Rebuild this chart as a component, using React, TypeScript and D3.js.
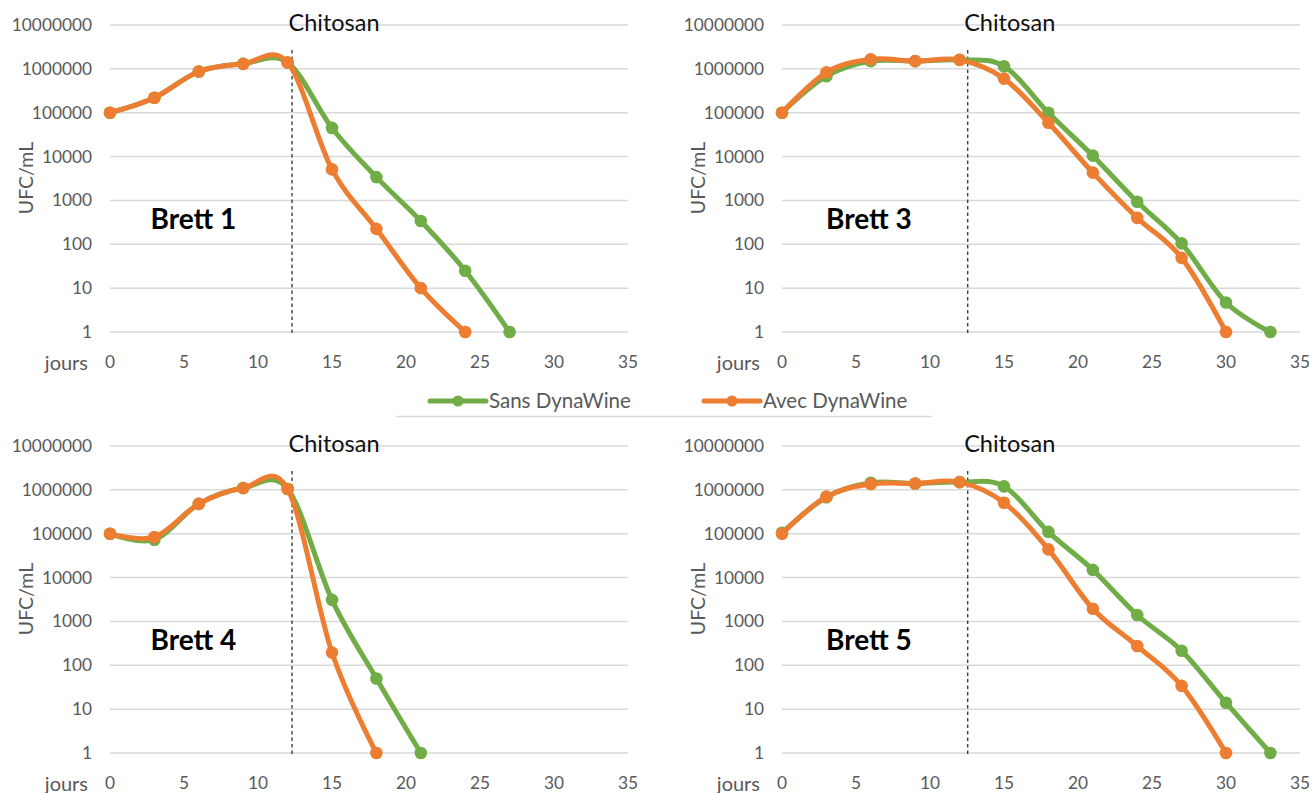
import React from "react";
import * as d3 from "d3";

const DAYS = [0, 3, 6, 9, 12, 15, 18, 21, 24, 27, 30, 33];
const X_TICKS = [0, 5, 10, 15, 20, 25, 30, 35];
const Y_TICKS = [1, 10, 100, 1000, 10000, 100000, 1000000, 10000000];

const brett1Sans = [1e5, 2.2e5, 8.7e5, 1.3e6, 1.4e6, 4.5e4, 3.4e3, 340, 25, 1];
const brett1Avec = [1e5, 2.2e5, 8.7e5, 1.3e6, 1.4e6, 5.1e3, 225, 10, 1];
const brett3Sans = [1e5, 6.8e5, 1.5e6, 1.5e6, 1.6e6, 1.15e6, 1e5, 1.05e4, 930, 105, 4.7, 1];
const brett3Avec = [1e5, 8.3e5, 1.65e6, 1.5e6, 1.6e6, 6e5, 5.9e4, 4.3e3, 400, 49, 1];
const brett4Sans = [1e5, 7.3e4, 4.8e5, 1.1e6, 1.05e6, 3.1e3, 50, 1];
const brett4Avec = [1e5, 8.4e4, 4.8e5, 1.1e6, 1.05e6, 195, 1];
const brett5Sans = [1.05e5, 6.8e5, 1.45e6, 1.4e6, 1.5e6, 1.2e6, 1.1e5, 1.5e4, 1.4e3, 215, 14, 1];
const brett5Avec = [1e5, 7e5, 1.35e6, 1.4e6, 1.5e6, 5.1e5, 4.4e4, 1.95e3, 275, 34, 1];

const PANEL_NAMES = ["Brett 1", "Brett 3", "Brett 4", "Brett 5"];
const SERIES_NAMES = ["Sans DynaWine", "Avec DynaWine"];
const CHITOSAN_LABEL = "Chitosan";
const CHITOSAN_DAY = [12.3, 12.55, 12.3, 12.55];

const GREEN = "#70AD47";
const ORANGE = "#ED7D31";
const GRID = "#D9D9D9";
const TEXT = "#595959";
const FONT = "Lato, 'Open Sans', sans-serif";

const panels = [
  { name: PANEL_NAMES[0], sans: brett1Sans, avec: brett1Avec, chit: CHITOSAN_DAY[0], x0: 110, y0: 25 },
  { name: PANEL_NAMES[1], sans: brett3Sans, avec: brett3Avec, chit: CHITOSAN_DAY[1], x0: 782, y0: 25 },
  { name: PANEL_NAMES[2], sans: brett4Sans, avec: brett4Avec, chit: CHITOSAN_DAY[2], x0: 110, y0: 446 },
  { name: PANEL_NAMES[3], sans: brett5Sans, avec: brett5Avec, chit: CHITOSAN_DAY[3], x0: 782, y0: 446 },
];

const PW = 518;
const PH = 307;

function Panel({ p }: { p: (typeof panels)[number] }) {
  const x = d3.scaleLinear().domain([0, 35]).range([p.x0, p.x0 + PW]);
  const y = d3.scaleLog().domain([1, 1e7]).range([p.y0 + PH, p.y0]);
  const line = d3
    .line<number>()
    .x((_, i) => x(DAYS[i]))
    .y((v) => y(v))
    .curve(d3.curveCardinal.tension(0));
  const series = [
    { vals: p.sans, color: GREEN },
    { vals: p.avec, color: ORANGE },
  ];
  const cx = x(p.chit);
  return (
    <g>
      {Y_TICKS.map((t) => (
        <g key={t}>
          <line x1={p.x0} x2={p.x0 + PW} y1={y(t)} y2={y(t)} stroke={GRID} strokeWidth={1.5} />
          <text x={p.x0 - 18} y={y(t)} dy="0.35em" textAnchor="end" fontSize={17.3} fill={TEXT} fontFamily={FONT}>
            {String(t)}
          </text>
        </g>
      ))}
      {X_TICKS.map((t) => (
        <text key={t} x={x(t)} y={p.y0 + PH + 30} dy="0.35em" textAnchor="middle" fontSize={17.3} fill={TEXT} fontFamily={FONT}>
          {t}
        </text>
      ))}
      <text x={p.x0 - 22} y={p.y0 + PH + 38} textAnchor="end" fontSize={20} fill={TEXT} fontFamily={FONT}>
        jours
      </text>
      <text
        transform={`translate(${p.x0 - 77},${p.y0 + 153}) rotate(-90)`}
        textAnchor="middle"
        fontSize={19.5}
        fill={TEXT}
        fontFamily={FONT}
      >
        UFC/mL
      </text>
      <line x1={cx} x2={cx} y1={p.y0 + 25} y2={p.y0 + PH + 4} stroke="#222" strokeWidth={1.2} strokeDasharray="3.5,3" />
      <text x={cx + 42} y={p.y0 + 6} textAnchor="middle" fontSize={23.5} fill="#111" fontFamily={FONT}>
        {CHITOSAN_LABEL}
      </text>
      <text x={p.x0 + (p.x0 < 500 ? 40.6 : 44)} y={p.y0 + 204} fontSize={28} fontWeight="bold" fill="#000" fontFamily={FONT}>
        {p.name}
      </text>
      {series.map((s, si) => (
        <g key={si}>
          <path d={line(s.vals) || ""} fill="none" stroke={s.color} strokeWidth={5} strokeLinejoin="round" strokeLinecap="round" />
          {s.vals.map((v, i) => (
            <circle key={i} cx={x(DAYS[i])} cy={y(v)} r={6.3} fill={s.color} />
          ))}
        </g>
      ))}
    </g>
  );
}

export default function App() {
  const legend = [
    { name: SERIES_NAMES[0], color: GREEN, x: 430 },
    { name: SERIES_NAMES[1], color: ORANGE, x: 704 },
  ];
  return (
    <svg
      width={1312}
      height={793}
      style={{ position: "absolute", left: 0, top: 0, background: "#fff" }}
    >
      <rect width={1312} height={793} fill="#fff" />
      {panels.map((p) => (
        <Panel key={p.name} p={p} />
      ))}
      <line x1={396} x2={932} y1={416.5} y2={416.5} stroke={GRID} strokeWidth={1.5} />
      {legend.map((l) => (
        <g key={l.name}>
          <line x1={l.x} x2={l.x + 56} y1={401} y2={401} stroke={l.color} strokeWidth={5} strokeLinecap="round" />
          <circle cx={l.x + 28} cy={401} r={5.5} fill={l.color} />
          <text x={l.x + 59} y={401} dy="0.35em" fontSize={20.5} fill={TEXT} fontFamily={FONT}>
            {l.name}
          </text>
        </g>
      ))}
    </svg>
  );
}
